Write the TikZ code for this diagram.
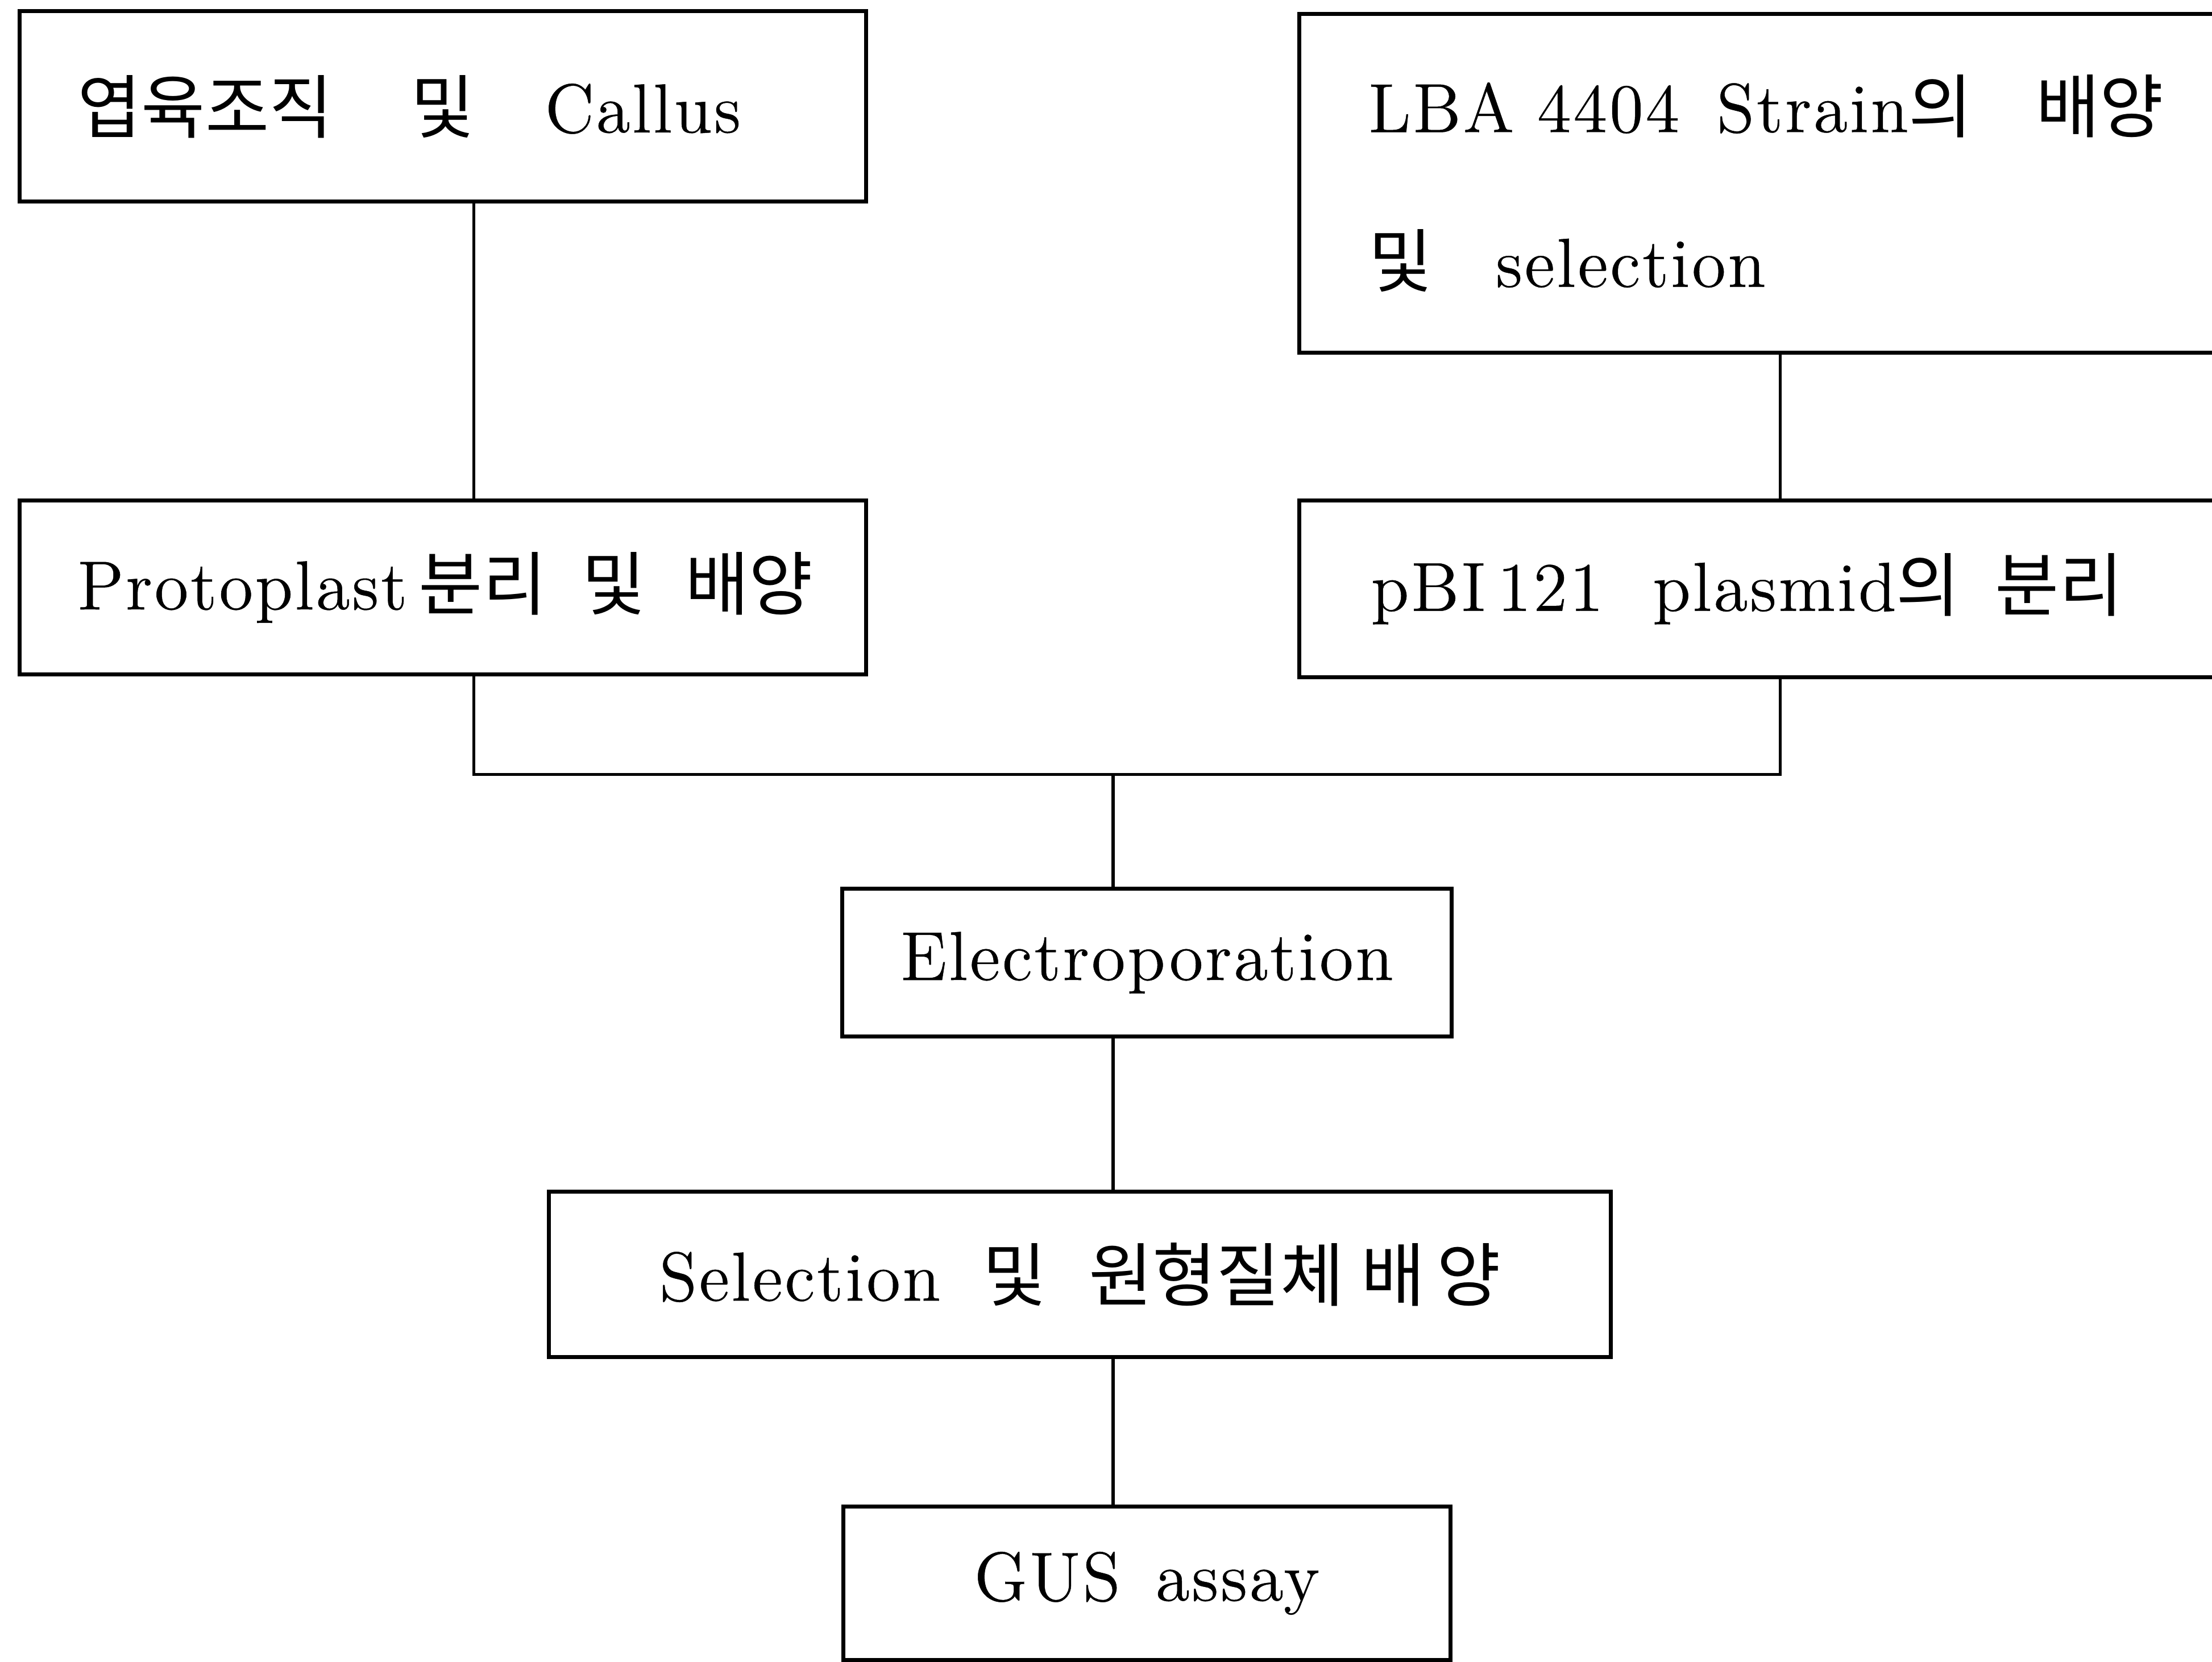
\documentclass[tikz,border=0pt]{standalone}
\usepackage{fontspec}
\setmainfont{Latin Modern Roman}[LetterSpace=3, FakeBold=0.4]
\newfontfamily\kor{Noto Sans CJK KR}
\usetikzlibrary{calc}
\begin{document}
\begin{tikzpicture}[>=latex, scale=1,
  box/.style={draw, line width=0.8pt, inner sep=0pt, font=\fontsize{14}{17}\selectfont}]
\clip(0,0) rectangle(15.68,-11.78);
\node[box, minimum width=6cm, minimum height=1.35cm, text width=5.18cm, align=left](callus) at(3.14,-0.755)
  {{\kor 엽육조직}\hspace{0.55cm}{\kor 및}\hspace{0.5cm}Callus};
\node[box, minimum width=6.79cm, minimum height=2.4cm, text width=5.81cm, align=left](strain) at(12.605,-1.3)
  {LBA 4404\hspace{0.1cm} Strain{\kor 의}\hspace{0.45cm}{\kor 배양}\\[0.5cm]{\kor 및}\hspace{0.45cm}selection};
\node[box, minimum width=6cm, minimum height=1.23cm, text width=5.18cm, align=left](proto) at(3.14,-4.165)
  {\mbox{Protoplast\,{\kor 분리}\hspace{0.25cm}{\kor 및}\hspace{0.28cm}{\kor 배양}}};
\node[box, minimum width=6.79cm, minimum height=1.25cm, text width=5.77cm, align=left](plasmid) at(12.605,-4.175)
  {pBI\,121\hspace{0.35cm}plasmid{\kor 의}\hspace{0.25cm}{\kor 분리}};
\node[box, minimum width=4.32cm, minimum height=1.05cm](electro) at(8.13,-6.825){Electroporation};
\node[box, minimum width=7.53cm, minimum height=1.17cm](select) at(7.655,-9.035)
  {Selection\hspace{0.3cm}{\kor 및}\hspace{0.3cm}{\kor 원형질체}\hspace{0.12cm}{\kor 배\,양}};
\node[box, minimum width=4.3cm, minimum height=1.09cm](gus) at(8.13,-11.225){GUS\hspace{0.25cm}assay};
\coordinate(lx) at(3.36,0);
\coordinate(rx) at(12.62,0);
\coordinate(mx) at(7.89,-5.49);
\draw[line width=0.6pt](callus.south -| lx)--(proto.north -| lx);
\draw[line width=0.6pt](strain.south -| rx)--(plasmid.north -| rx);
\draw[line width=0.6pt](proto.south -| lx) |- (mx) -| (plasmid.south -| rx);
\draw[line width=0.6pt](mx)--(electro.north -| mx);
\draw[line width=0.6pt](electro.south -| mx)--(select.north -| mx);
\draw[line width=0.6pt](select.south -| mx)--(gus.north -| mx);
\end{tikzpicture}
\end{document}
